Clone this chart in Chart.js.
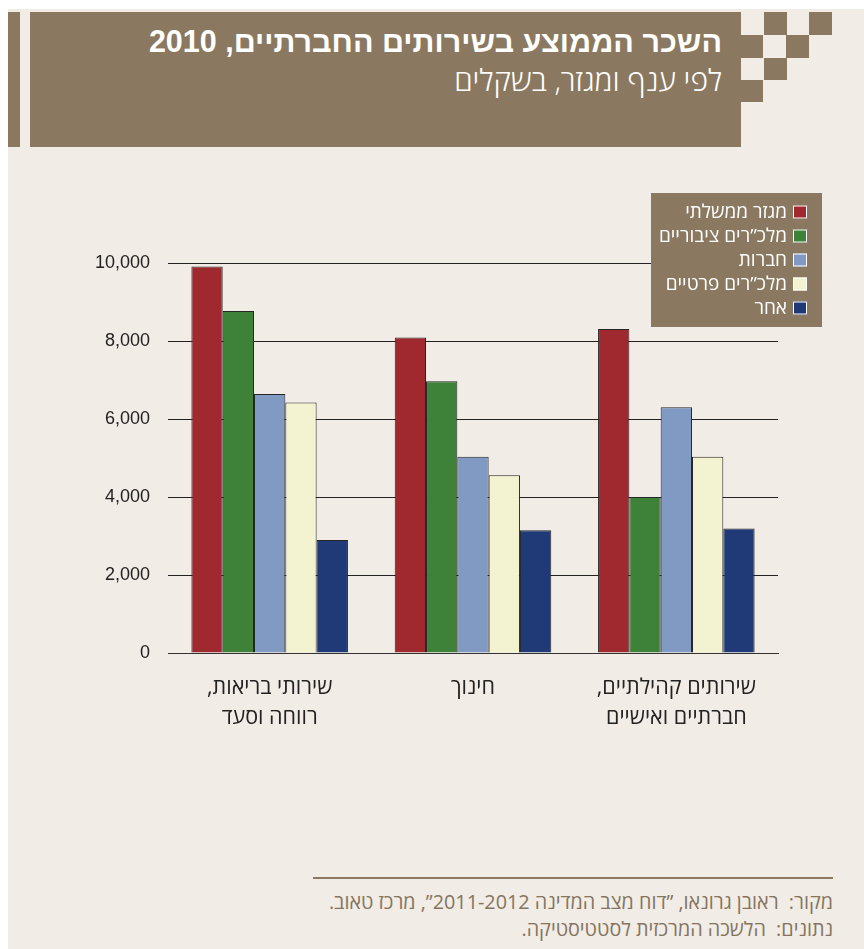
<!DOCTYPE html>
<html lang="he" dir="rtl">
<head>
<meta charset="utf-8">
<script src="https://cdn.jsdelivr.net/npm/chart.js@4"></script>
<style>
  body { margin: 0; background: #fff; width: 864px; height: 949px; overflow: hidden; position: relative; font-family: "Open Sans", "DejaVu Sans", sans-serif; }
  #page { position: absolute; left: 8px; top: 9px; width: 856px; height: 940px; background: #f1ece6; }
  .brown { position: absolute; background: #8a7960; }
  #title { position: absolute; right: 142px; top: 23px; color: #fff; font: bold 30.5px "Liberation Sans", Arial, sans-serif; line-height: 36px; white-space: nowrap; }
  #subtitle { position: absolute; right: 142px; top: 60px; color: #fff; font-weight: 300; font-size: 30px; line-height: 40px; white-space: nowrap; }
  #rule { position: absolute; left: 313px; top: 877px; width: 520px; height: 2px; background: #8a7960; }
  #notes { position: absolute; right: 31px; top: 888px; color: #857560; font-size: 19.8px; line-height: 27px; white-space: nowrap; text-align: right; }
  #chart { position: absolute; left: 0; top: 0; }
</style>
</head>
<body>
<div id="page"></div>
<div class="brown" style="left:8px;top:12px;width:12px;height:135px"></div>
<div class="brown" style="left:30px;top:12px;width:711px;height:135px"></div>
<div class="brown" style="left:764px;top:12px;width:23px;height:23px"></div>
<div class="brown" style="left:809px;top:12px;width:23px;height:23px"></div>
<div class="brown" style="left:741px;top:35px;width:22px;height:23px"></div>
<div class="brown" style="left:786px;top:35px;width:23px;height:23px"></div>
<div class="brown" style="left:764px;top:58px;width:23px;height:22px"></div>
<div class="brown" style="left:741px;top:80px;width:22px;height:22px"></div>
<div id="title">השכר הממוצע בשירותים החברתיים, 2010</div>
<div id="subtitle">לפי ענף ומגזר, בשקלים</div>
<div id="rule"></div>
<div id="notes">מקור:&nbsp; ראובן גרונאו, ”דוח מצב המדינה 2011-2012”, מרכז טאוב.<br>נתונים:&nbsp; הלשכה המרכזית לסטטיסטיקה.</div>
<canvas id="chart" width="864" height="949" dir="rtl"></canvas>
<script>
// branches (x axis), each label split in lines
const categories = [
  ['שירותי בריאות,', 'רווחה וסעד'],
  ['חינוך'],
  ['שירותים קהילתיים,', 'חברתיים ואישיים']
];
const seriesNames = ['מגזר ממשלתי', 'מלכ”רים ציבוריים', 'חברות', 'מלכ”רים פרטיים', 'אחר'];
const seriesColors = ['#a0282f', '#3e823a', '#809ac4', '#f3f3d1', '#203a78'];

// average salary, NIS
const government = [9910, 8090, 8310];
const publicNonprofit = [8770, 6970, 4000];
const companies = [6640, 5030, 6300];
const privateNonprofit = [6420, 4560, 5030];
const other = [2900, 3150, 3190];

const yMax = 10000;
const yStep = 2000;

const values = [government, publicNonprofit, companies, privateNonprofit, other];

// legend drawn as a brown box over the top right of the plot
const boxLegend = {
  id: 'boxLegend',
  afterDraw(chart) {
    const ctx = chart.ctx;
    const right = chart.chartArea.right + 44;
    ctx.save();
    ctx.fillStyle = '#8a7960';
    ctx.fillRect(651, 193, right - 651, 134);
    ctx.font = '19px "Open Sans", "DejaVu Sans", sans-serif';
    ctx.textAlign = 'right';
    ctx.textBaseline = 'middle';
    chart.data.datasets.forEach((ds, i) => {
      const y = 212 + i * 24;
      ctx.fillStyle = ds.backgroundColor;
      ctx.fillRect(793, y - 6.5, 14, 13);
      ctx.strokeStyle = '#fff';
      ctx.lineWidth = 1;
      ctx.strokeRect(793.5, y - 6, 13, 12);
      ctx.fillStyle = '#fff';
      ctx.fillText(ds.label, 787, y + 1);
    });
    ctx.restore();
  }
};

new Chart(document.getElementById('chart'), {
  type: 'bar',
  data: {
    labels: categories,
    datasets: seriesNames.map((name, i) => ({
      label: name,
      data: values[i],
      backgroundColor: seriesColors[i],
      borderColor: '#262626',
      borderWidth: 1,
      barPercentage: 1,
      categoryPercentage: 0.77
    }))
  },
  options: {
    responsive: false,
    animation: false,
    devicePixelRatio: 1,
    locale: 'en-US',
    layout: { padding: { top: 263, left: 0, right: 86, bottom: 196 } },
    plugins: { legend: { display: false }, tooltip: { enabled: false } },
    scales: {
      x: {
        grid: { display: false, drawTicks: false },
        border: { display: true, color: '#333', width: 1 },
        ticks: {
          color: '#222',
          padding: 20,
          font: { family: '"Open Sans", "DejaVu Sans", sans-serif', size: 21.5, lineHeight: 1.4 }
        },
        afterFit: s => { s.height = 100; }
      },
      y: {
        min: 0,
        max: yMax,
        grid: { color: '#222', lineWidth: 1, drawTicks: false },
        border: { display: false },
        ticks: {
          stepSize: yStep,
          color: '#222',
          padding: 18,
          font: { family: '"Liberation Sans", Arial, sans-serif', size: 18 }
        },
        afterFit: s => { s.width = 168; }
      }
    }
  },
  plugins: [boxLegend]
});
</script>
</body>
</html>
